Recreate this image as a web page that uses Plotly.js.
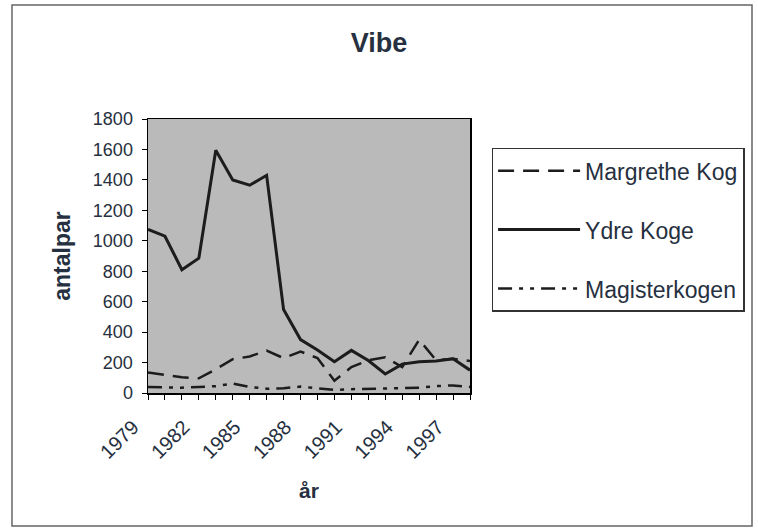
<!DOCTYPE html>
<html>
<head>
<meta charset="utf-8">
<script src="https://cdn.plot.ly/plotly-3.0.1.min.js"></script>
<style>
html,body{margin:0;padding:0;background:#fff;}
#chart{width:758px;height:530px;}
</style>
</head>
<body>
<div id="chart"></div>
<script>
// Data (antal par, 1979-1998)
const years = [1979,1980,1981,1982,1983,1984,1985,1986,1987,1988,1989,1990,1991,1992,1993,1994,1995,1996,1997,1998];
const margretheKog = [134,119,103,97,156,222,240,279,229,272,230,80,170,215,235,170,350,215,225,210];
const ydreKoge = [1075,1030,810,886,1595,1400,1365,1430,548,351,283,206,280,213,125,190,205,210,225,150];
const magisterkogen = [40,38,35,40,45,62,40,28,32,42,30,20,25,28,30,32,35,45,50,40];
const seriesNames = ["Margrethe Kog","Ydre Koge","Magisterkogen"];
const tickYears = [1979,1982,1985,1988,1991,1994,1997];
const tickLabels = ["1979","1982","1985","1988","1991","1994","1997"];

const txt = "#263040";
const lineCol = "#1c1c1c";

const traces = [
  {x: years, y: margretheKog, name: seriesNames[0], mode: "lines", legendgroup: "a",
   line: {color: lineCol, width: 2.5, dash: "16px,9px"}},
  {x: years, y: ydreKoge, name: seriesNames[1], mode: "lines", legendgroup: "b",
   line: {color: lineCol, width: 3}},
  {x: years, y: magisterkogen, name: seriesNames[2], mode: "lines", legendgroup: "c",
   line: {color: lineCol, width: 2.5, dash: "14px,7px,4px,7px,4px,7px"}}
];

const layout = {
  width: 758, height: 530,
  margin: {l: 148, r: 288, t: 119, b: 137},
  paper_bgcolor: "#ffffff",
  plot_bgcolor: "#bababa",
  font: {family: "Liberation Sans, Arial, sans-serif", color: txt},
  title: {text: "<b>Vibe</b>", font: {size: 27, color: txt}, x: 0.5, xref: "container",
          y: 0.919, yref: "container", yanchor: "middle"},
  xaxis: {
    range: [1979, 1998], tickvals: tickYears, ticktext: tickLabels,
    tickangle: -45, tickfont: {size: 20, color: txt},
    ticks: "outside", ticklen: 5, tickcolor: "#000",
    ticklabelstandoff: 8, ticklabelshift: -15,
    minor: {dtick: 1, tick0: 1979, ticks: "outside", ticklen: 5, tickcolor: "#000"},
    showline: true, linecolor: "#000", linewidth: 1.5, mirror: true,
    showgrid: false, zeroline: false,
    title: {text: "<b>år</b>", font: {size: 21, color: txt}, standoff: 21}
  },
  yaxis: {
    range: [0, 1800], dtick: 200, tickfont: {size: 18, color: txt},
    ticks: "outside", ticklen: 5, tickcolor: "#000", ticklabelstandoff: 5,
    showline: true, linecolor: "#000", linewidth: 1.5, mirror: true,
    showgrid: false, zeroline: false,
    title: {text: "<b>antalpar</b>", font: {size: 23, color: txt}, standoff: 16}
  },
  showlegend: true,
  legend: {
    x: 1.067, y: 0.895, xanchor: "left", yanchor: "top",
    bgcolor: "#ffffff", bordercolor: "#333", borderwidth: 1.5,
    font: {size: 23, color: txt}, itemwidth: 82,
    traceorder: "grouped", tracegroupgap: 26
  },
  shapes: [
    {type: "rect", xref: "paper", yref: "paper", x0: -0.4224, x1: 1.8758, y0: -0.485, y1: 1.416,
     line: {color: "#666", width: 1.5}, fillcolor: "rgba(0,0,0,0)", layer: "below"}
  ]
};

Plotly.newPlot("chart", traces, layout, {displayModeBar: false, staticPlot: true});
</script>
</body>
</html>
